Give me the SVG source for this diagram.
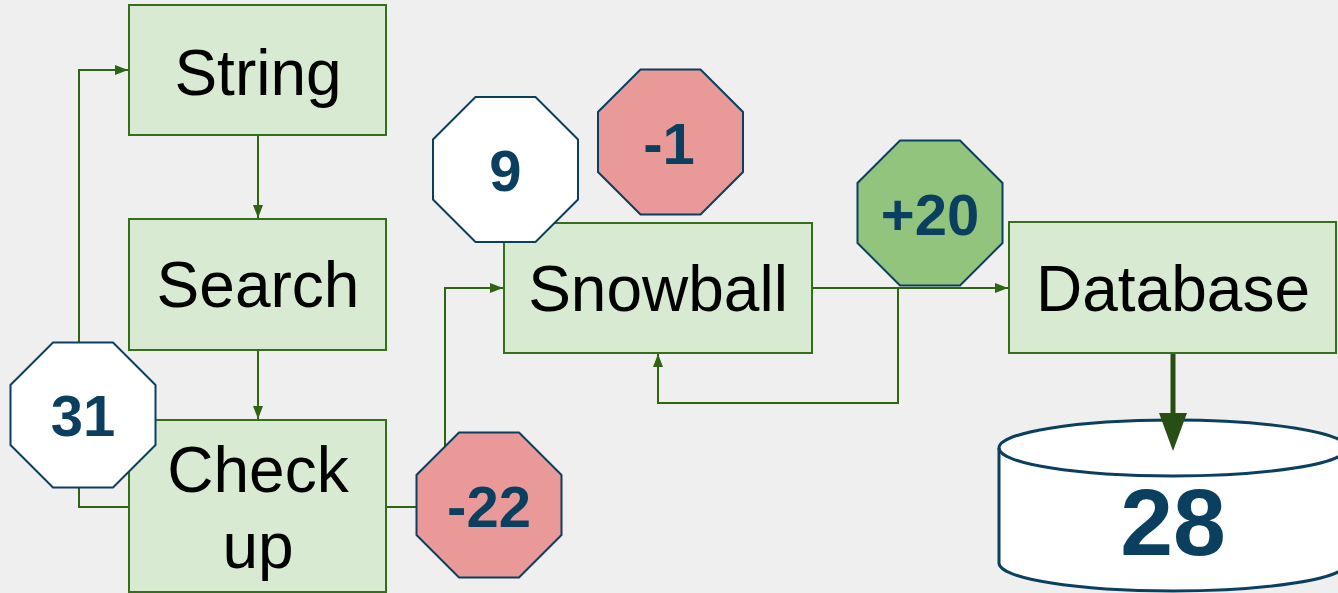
<svg xmlns="http://www.w3.org/2000/svg" width="1338" height="593" viewBox="0 0 1338 593">
<style>
.box{fill:#d9ead3;stroke:#33701a;stroke-width:2}
.lbl{font-family:"Liberation Sans",Arial,sans-serif;font-size:64px;fill:#000;text-anchor:middle}
.num{font-family:"Liberation Sans",Arial,sans-serif;font-size:58px;font-weight:bold;fill:#0b3f5f;text-anchor:middle}
.oct{stroke:#0b3f5f;stroke-width:2}
.con{fill:none;stroke:#2e6512;stroke-width:2}
</style>
<defs>
<marker id="ah" markerUnits="userSpaceOnUse" markerWidth="14" markerHeight="11" refX="13" refY="5" orient="auto">
<path d="M0,0 L13,5 L0,10 z" fill="#2e6512"/>
</marker>
<polygon id="octa" points="-30,-72.5 30,-72.5 72.5,-30 72.5,30 30,72.5 -30,72.5 -72.5,30 -72.5,-30"/>
</defs>
<rect width="1338" height="593" fill="#efefef"/>
<g id="connectors">
<path class="con" d="M258,136 V218" marker-end="url(#ah)"/>
<path class="con" d="M258,350 V419" marker-end="url(#ah)"/>
<path class="con" d="M129,507 H79 V70 H128" marker-end="url(#ah)"/>
<path class="con" d="M387,507 H445 V288 H503" marker-end="url(#ah)"/>
<path class="con" d="M812,288 H1008" marker-end="url(#ah)"/>
<path class="con" d="M898,288 V403 H658 V354" marker-end="url(#ah)"/>
<path d="M1173,353 V414" stroke="#274e13" stroke-width="5" fill="none"/>
</g>
<g id="string"><rect class="box" x="129" y="5" width="257" height="130"/><text class="lbl" x="258" y="95">String</text></g>
<g id="search"><rect class="box" x="129" y="219" width="257" height="131"/><text class="lbl" x="258" y="307">Search</text></g>
<g id="checkup"><rect class="box" x="129" y="420" width="257" height="172"/><text class="lbl" x="258" y="492">Check</text><text class="lbl" x="258" y="568">up</text></g>
<g id="snowball"><rect class="box" x="504" y="223" width="308" height="130"/><text class="lbl" x="658" y="311">Snowball</text></g>
<g id="database"><rect class="box" x="1009" y="222" width="327" height="131"/><text class="lbl" x="1173" y="311">Database</text></g>
<g id="store">
<path d="M999,448 V563 A174,28 0 0 0 1347,563 V448 A174,28 0 0 0 999,448 Z" fill="#fff" stroke="#0b3f5f" stroke-width="3"/>
<path d="M999,448 A174,28 0 0 0 1347,448" fill="none" stroke="#0b3f5f" stroke-width="3"/>
<polygon points="1159,413 1187,413 1173,451" fill="#274e13"/>
<text class="num" x="1173" y="555" style="font-size:95px">28</text>
</g>
<g id="oct31"><use href="#octa" class="oct" fill="#fff" transform="translate(83,415)"/><text class="num" x="83" y="436">31</text></g>
<g id="octm22"><use href="#octa" class="oct" fill="#ea9999" transform="translate(489,505)"/><text class="num" x="489" y="527">-22</text></g>
<g id="oct9"><use href="#octa" class="oct" fill="#fff" transform="translate(505.5,169.5)"/><text class="num" x="505.5" y="191">9</text></g>
<g id="octm1"><use href="#octa" class="oct" fill="#ea9999" transform="translate(670.5,142)"/><text class="num" x="669" y="164">-1</text></g>
<g id="octp20"><use href="#octa" class="oct" fill="#93c47d" transform="translate(930,213)"/><text class="num" x="930" y="235">+20</text></g>
</svg>
